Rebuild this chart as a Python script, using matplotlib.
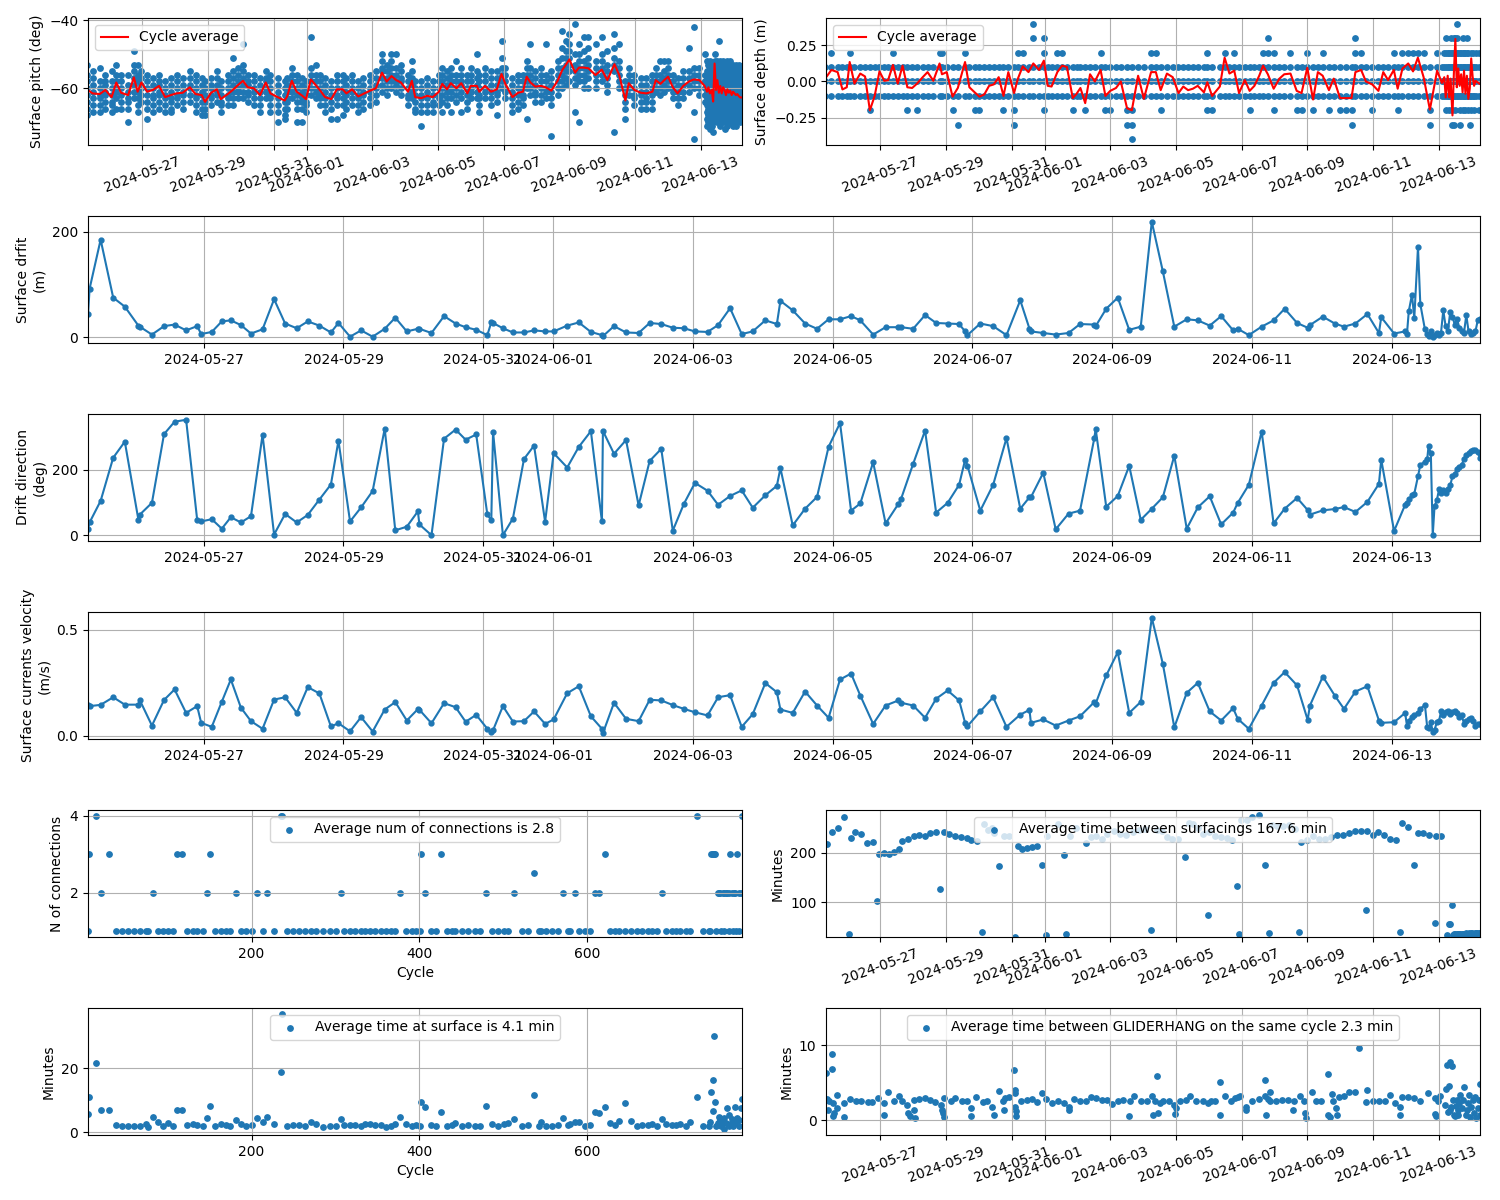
import numpy as np
import pandas as pd
import matplotlib
matplotlib.use('Agg')
import matplotlib.pyplot as plt

# days are counted from this date
start = pd.Timestamp('2024-05-25')

# surfacing times (days since start) for drift / direction / velocity
surf_day = [0.345, 0.367, 0.525, 0.705, 0.871, 1.065, 1.086, 1.259, 1.432, 1.583,
            1.748, 1.906, 1.964, 2.115, 2.259, 2.388, 2.532, 2.676, 2.842, 3.007,
            3.165, 3.331, 3.489, 3.655, 3.820, 3.928, 4.094, 4.252, 4.417, 4.590,
            4.741, 4.906, 5.065, 5.086, 5.259, 5.439, 5.604, 5.748, 5.899, 6.058,
            6.115, 6.140, 6.281, 6.424, 6.583, 6.727, 6.885, 7.007, 7.201, 7.367,
            7.540, 7.698, 7.712, 7.871, 8.043, 8.223, 8.381, 8.547, 8.712, 8.871,
            9.029, 9.209, 9.360, 9.532, 9.698, 9.856, 10.036, 10.201, 10.252, 10.428,
            10.605, 10.776, 10.941, 11.105, 11.263, 11.395, 11.579, 11.757, 11.941, 11.980,
            12.151, 12.322, 12.480, 12.645, 12.809, 12.895, 12.928, 13.112, 13.296, 13.487,
            13.684, 13.816, 13.836, 14.013, 14.191, 14.375, 14.539, 14.743, 14.763, 14.914,
            15.079, 15.243, 15.408, 15.566, 15.724, 15.888, 16.066, 16.224, 16.395, 16.559,
            16.730, 16.796, 16.954, 17.138, 17.309, 17.467, 17.645, 17.796, 17.829, 18.013,
            18.184, 18.316, 18.480, 18.651, 18.816, 18.849, 19.033, 19.191, 19.217, 19.243,
            19.289, 19.322, 19.375, 19.408, 19.474, 19.507, 19.526, 19.559, 19.586, 19.612,
            19.645, 19.678, 19.704, 19.737, 19.770, 19.803, 19.836, 19.868, 19.901, 19.934,
            19.967, 20.000, 20.033, 20.066, 20.099, 20.132, 20.164, 20.197, 20.230, 20.263]

drift = [44, 92, 185, 75, 58, 22, 20, 5, 21, 24,
         13, 21, 6, 10, 30, 32, 23, 7, 15, 72,
         26, 17, 30, 22, 9, 27, 1, 13, 1, 16,
         37, 11, 16, 16, 8, 40, 26, 19, 14, 4,
         28, 27, 17, 9, 9, 13, 11, 11, 22, 28,
         10, 4, 2, 21, 9, 8, 27, 25, 18, 17,
         11, 10, 23, 55, 6, 11, 32, 25, 69, 51,
         26, 16, 34, 34, 40, 32, 5, 19, 19, 19,
         16, 42, 27, 26, 25, 11, 4, 26, 21, 4,
         70, 16, 11, 8, 5, 8, 25, 24, 21, 54,
         75, 14, 20, 219, 125, 20, 34, 32, 22, 40,
         13, 16, 4, 20, 32, 54, 27, 18, 23, 39,
         26, 20, 26, 44, 8, 38, 7, 11, 6, 49,
         81, 36, 171, 63, 15, 6, 3, 12, 0, 5,
         8, 5, 8, 51, 21, 11, 48, 39, 24, 34,
         18, 11, 8, 42, 11, 7, 8, 11, 32, 34]

direction = [20, 39, 105, 237, 286, 48, 63, 99, 309, 347,
             353, 48, 42, 49, 20, 55, 39, 58, 307, 2,
             65, 39, 62, 109, 155, 289, 42, 85, 135, 326,
             15, 26, 73, 33, 0, 295, 323, 292, 308, 64,
             45, 317, 0, 51, 233, 274, 41, 251, 207, 270,
             318, 42, 319, 249, 291, 91, 227, 264, 14, 96,
             160, 136, 93, 120, 137, 84, 122, 151, 205, 30,
             81, 117, 270, 343, 75, 97, 223, 36, 96, 112,
             218, 320, 69, 99, 154, 231, 213, 75, 154, 297,
             81, 116, 116, 191, 18, 66, 75, 296, 325, 87,
             120, 212, 47, 81, 116, 243, 20, 85, 119, 33,
             69, 99, 154, 317, 36, 81, 114, 77, 63, 76,
             80, 86, 71, 102, 157, 231, 13, 93, 98, 110,
             122, 127, 180, 215, 225, 233, 272, 250, 0, 89,
             107, 142, 130, 137, 130, 142, 152, 180, 188, 203,
             208, 215, 233, 246, 252, 257, 261, 261, 254, 235]

velocity = [0.145, 0.139, 0.145, 0.181, 0.146, 0.146, 0.167, 0.047, 0.168, 0.218,
            0.107, 0.139, 0.060, 0.041, 0.160, 0.265, 0.132, 0.068, 0.032, 0.170,
            0.181, 0.107, 0.229, 0.199, 0.043, 0.058, 0.020, 0.087, 0.019, 0.123,
            0.158, 0.071, 0.125, 0.122, 0.058, 0.153, 0.134, 0.065, 0.098, 0.032,
            0.016, 0.025, 0.139, 0.066, 0.068, 0.114, 0.055, 0.076, 0.200, 0.233,
            0.091, 0.032, 0.011, 0.155, 0.079, 0.068, 0.169, 0.166, 0.144, 0.126,
            0.110, 0.095, 0.181, 0.191, 0.041, 0.101, 0.248, 0.205, 0.123, 0.107,
            0.208, 0.142, 0.084, 0.265, 0.293, 0.189, 0.055, 0.142, 0.166, 0.155,
            0.142, 0.084, 0.174, 0.213, 0.166, 0.060, 0.044, 0.114, 0.181, 0.041,
            0.099, 0.121, 0.060, 0.076, 0.047, 0.071, 0.091, 0.158, 0.151, 0.284,
            0.394, 0.107, 0.159, 0.557, 0.339, 0.039, 0.202, 0.249, 0.114, 0.071,
            0.129, 0.079, 0.032, 0.142, 0.249, 0.300, 0.237, 0.074, 0.142, 0.279,
            0.189, 0.126, 0.208, 0.233, 0.071, 0.060, 0.063, 0.107, 0.047, 0.071,
            0.087, 0.095, 0.107, 0.126, 0.145, 0.039, 0.035, 0.063, 0.016, 0.027,
            0.063, 0.071, 0.114, 0.095, 0.110, 0.117, 0.102, 0.110, 0.114, 0.107,
            0.087, 0.098, 0.055, 0.071, 0.079, 0.082, 0.071, 0.047, 0.055, 0.055]

# surface pitch: cycle average and individual readings per surfacing
pitch_day = [0.309, 0.483, 0.699, 0.873, 1.061, 1.205, 1.350, 1.566, 1.740, 1.855,
             1.971, 2.145, 2.318, 2.506, 2.694, 2.867, 3.040, 3.228, 3.445, 3.618,
             3.806, 3.908, 4.095, 4.269, 4.384, 4.601, 4.775, 4.919, 5.064, 5.208,
             5.396, 5.584, 5.757, 5.902, 6.118, 6.335, 6.408, 6.552, 6.697, 6.870,
             6.986, 7.130, 7.275, 7.419, 7.564, 7.751, 7.925, 8.098, 8.214, 8.387,
             8.575, 8.720, 8.936, 9.110, 9.298, 9.442, 9.587, 9.731, 9.876, 10.092,
             10.208, 10.309, 10.497, 10.671, 10.844, 11.032, 11.133, 11.277, 11.393, 11.566,
             11.711, 11.899, 12.000, 12.188, 12.260, 12.434, 12.621, 12.795, 12.939, 13.055,
             13.272, 13.445, 13.590, 13.705, 13.821, 13.965, 14.139, 14.283, 14.457, 14.645,
             14.789, 14.890, 15.006, 15.179, 15.295, 15.439, 15.584, 15.801, 15.990, 16.162,
             16.379, 16.523, 16.711, 16.812, 16.986, 17.173, 17.347, 17.535, 17.636, 17.780,
             17.896, 18.012, 18.156, 18.301, 18.474, 18.647, 18.792, 18.965, 19.124, 19.197,
             19.240, 19.283, 19.341, 19.384, 19.428, 19.471, 19.514, 19.558, 19.601, 19.645,
             19.688, 19.731, 19.775, 19.818, 19.861, 19.905, 19.948, 19.991, 20.035, 20.078,
             20.121, 20.165, 20.208, 20.250]

pitch_avg = [-60.3, -61.5, -61.7, -60.5, -62.6, -58.3, -61.3, -62.0, -56.8, -61.0,
             -58.3, -61.0, -60.5, -59.3, -62.6, -62.0, -61.5, -61.3, -59.7, -61.7,
             -62.0, -64.0, -61.3, -60.3, -63.2, -61.7, -60.3, -59.0, -57.8, -59.7,
             -60.0, -62.0, -58.3, -61.5, -62.6, -63.6, -62.4, -57.8, -61.0, -62.2,
             -63.2, -57.4, -59.0, -60.7, -62.6, -63.2, -60.3, -60.3, -61.5, -60.3,
             -62.4, -61.7, -60.7, -60.0, -55.4, -58.0, -56.4, -57.6, -58.3, -61.0,
             -57.8, -62.6, -62.9, -62.2, -62.6, -61.0, -58.7, -60.3, -58.5, -60.0,
             -58.5, -61.5, -59.3, -59.3, -61.0, -59.3, -61.0, -60.3, -55.8, -58.7,
             -62.6, -61.3, -61.0, -56.6, -58.3, -59.5, -59.3, -59.7, -60.7, -57.8,
             -54.6, -53.2, -51.5, -55.4, -53.9, -53.9, -54.1, -56.1, -54.5, -57.6,
             -52.9, -56.1, -63.6, -58.5, -60.5, -61.3, -61.5, -61.0, -57.6, -58.7,
             -57.6, -56.6, -59.7, -61.5, -59.3, -58.0, -57.4, -57.6, -59.3, -61.0,
             -59.7, -61.5, -60.5, -63.9, -52.7, -60.5, -57.6, -61.3, -59.3, -61.5,
             -59.7, -60.5, -62.0, -60.3, -61.3, -60.7, -62.0, -61.0, -61.5, -62.0,
             -61.7, -62.3, -62.7, -62.7]

pitch_obs = [
    [-53, -56, -58, -60, -62, -64, -66, -68], [-55, -57, -59, -61, -63, -65, -67],
    [-54, -58, -60, -62, -63, -65, -67], [-56, -58, -59, -61, -62, -64, -66],
    [-55, -58, -60, -62, -64, -65, -67], [-53, -56, -58, -60, -61, -63, -66],
    [-56, -58, -60, -62, -64, -66], [-56, -59, -61, -63, -64, -66, -70],
    [-49, -53, -55, -57, -59, -61, -63], [-53, -56, -58, -61, -63, -65, -67],
    [-55, -57, -59, -60, -62, -64], [-56, -58, -60, -62, -64, -66, -69],
    [-57, -59, -60, -62, -63, -65, -67], [-56, -58, -59, -61, -62, -64, -66],
    [-58, -60, -62, -63, -65, -67], [-57, -59, -61, -63, -64, -66, -67],
    [-56, -58, -60, -62, -63, -65], [-57, -59, -61, -62, -64, -66],
    [-55, -57, -59, -60, -62, -64], [-56, -58, -60, -62, -63, -65, -67],
    [-57, -59, -61, -62, -64, -66, -68], [-58, -60, -62, -64, -66, -68],
    [-57, -59, -60, -62, -63, -65], [-55, -57, -59, -61, -62, -64],
    [-58, -60, -62, -64, -65, -67], [-56, -58, -60, -62, -63, -65],
    [-51, -55, -57, -59, -61, -63, -65], [-54, -56, -58, -60, -61, -63],
    [-47, -53, -55, -57, -59, -61, -63], [-56, -58, -59, -61, -62, -64],
    [-56, -58, -60, -61, -63, -65], [-57, -59, -61, -63, -65, -67],
    [-55, -57, -58, -60, -61, -63], [-56, -58, -60, -62, -63, -65, -67],
    [-57, -59, -61, -63, -65, -67, -70], [-58, -60, -62, -64, -66, -68, -69],
    [-57, -59, -61, -63, -64, -66], [-54, -56, -58, -60, -61, -63],
    [-56, -58, -60, -62, -64, -66, -70], [-57, -59, -61, -63, -64, -66, -70],
    [-58, -60, -62, -64, -65, -67], [-45, -54, -56, -58, -60, -62],
    [-53, -56, -58, -60, -61, -63], [-56, -58, -60, -62, -63, -65],
    [-57, -59, -61, -63, -65, -67], [-58, -60, -62, -64, -66, -69],
    [-56, -58, -60, -62, -63, -65, -69], [-56, -58, -60, -61, -63, -65, -68],
    [-57, -59, -61, -62, -64, -66], [-56, -58, -60, -61, -63, -65],
    [-58, -60, -62, -63, -65, -67], [-57, -59, -61, -62, -64, -66],
    [-56, -58, -60, -61, -63, -65], [-55, -57, -59, -60, -62, -64],
    [-50, -52, -54, -55, -57, -59, -61], [-53, -55, -57, -58, -60, -62],
    [-50, -52, -54, -56, -58, -60], [-50, -54, -56, -58, -59, -61],
    [-53, -55, -57, -58, -60, -62], [-56, -58, -60, -62, -63, -65],
    [-52, -55, -57, -59, -61, -63], [-58, -60, -62, -64, -66, -67],
    [-58, -60, -62, -63, -65, -67, -71], [-57, -59, -61, -63, -65, -67],
    [-58, -60, -62, -64, -65, -67], [-56, -58, -60, -62, -63, -65],
    [-54, -56, -58, -60, -62, -64, -67], [-55, -57, -59, -61, -63, -65],
    [-54, -56, -58, -60, -61, -63, -67], [-52, -56, -58, -60, -62, -64],
    [-54, -56, -58, -59, -61, -63, -67], [-56, -58, -60, -62, -64, -66],
    [-54, -56, -58, -60, -61, -63], [-50, -55, -57, -59, -61, -63],
    [-56, -58, -60, -62, -63, -65, -67], [-54, -56, -58, -60, -61, -63],
    [-55, -57, -59, -61, -63, -65], [-55, -57, -59, -61, -62, -64, -68],
    [-46, -51, -54, -56, -58, -60], [-54, -56, -58, -60, -61, -63],
    [-57, -59, -61, -63, -65, -67], [-56, -58, -60, -62, -64, -66],
    [-56, -58, -60, -62, -63, -65], [-52, -54, -56, -58, -60, -69],
    [-47, -54, -56, -58, -60, -62], [-55, -57, -59, -61, -62, -64],
    [-54, -56, -58, -60, -62, -64], [-47, -56, -58, -60, -61, -63],
    [-55, -57, -59, -61, -63, -65, -74], [-52, -54, -56, -58, -60, -62],
    [-43, -48, -51, -54, -56, -58, -60], [-46, -49, -51, -53, -55, -57, -59],
    [-44, -47, -49, -51, -53, -55, -58], [-41, -50, -53, -55, -57, -59, -67],
    [-47, -50, -52, -54, -56, -58, -70], [-45, -49, -52, -54, -56, -58, -60],
    [-45, -48, -51, -53, -55, -57, -60], [-47, -52, -54, -56, -58, -60],
    [-45, -50, -52, -54, -56, -58], [-49, -53, -55, -57, -59, -61],
    [-44, -48, -51, -53, -55, -73], [-47, -52, -54, -56, -58, -60],
    [-58, -60, -62, -64, -66, -69], [-54, -56, -58, -60, -62],
    [-56, -58, -60, -62, -63, -65], [-57, -59, -61, -62, -64, -66],
    [-57, -59, -61, -63, -64, -66], [-56, -58, -60, -62, -64, -66],
    [-54, -56, -58, -60, -61], [-52, -56, -58, -60, -62],
    [-52, -55, -57, -59, -61], [-52, -54, -56, -58, -60],
    [-56, -58, -60, -61, -63], [-57, -59, -61, -63, -65],
    [-55, -57, -59, -61, -63], [-48, -55, -57, -59, -61],
    [-42, -54, -56, -58, -60, -67, -75], [-54, -56, -58, -60, -62],
    [-50, -56, -58, -60, -62, -64],
    [-52, -55, -57, -59, -61, -63, -65, -67, -69, -71],
    [-53, -55, -58, -60, -62, -64, -66, -68, -70],
    [-52, -54, -56, -58, -60, -62, -64, -66, -68, -72],
    [-53, -55, -57, -59, -61, -63, -65, -67, -69, -71],
    [-54, -56, -58, -60, -62, -64, -66, -68, -70, -73],
    [-50, -52, -54, -56, -58, -60, -62, -64, -66, -68],
    [-53, -55, -57, -59, -61, -63, -65, -67, -69],
    [-52, -54, -56, -58, -60, -62, -64, -66, -68, -70],
    [-46, -53, -55, -57, -59, -61, -63, -65, -67, -69],
    [-52, -54, -56, -58, -60, -62, -64, -66, -68, -71],
    [-53, -55, -57, -59, -61, -63, -65, -67, -69],
    [-52, -54, -56, -58, -60, -62, -64, -66, -68, -70],
    [-53, -55, -57, -59, -61, -63, -65, -67, -69, -72],
    [-54, -56, -58, -60, -62, -64, -66, -68, -70],
    [-52, -55, -57, -59, -61, -63, -65, -67, -69, -71],
    [-53, -55, -57, -59, -61, -63, -65, -67, -69],
    [-52, -54, -56, -58, -60, -62, -64, -66, -68, -70],
    [-54, -56, -58, -60, -62, -64, -66, -68, -70],
    [-53, -55, -57, -59, -61, -63, -65, -67, -69, -71],
    [-54, -56, -58, -60, -62, -64, -66, -68, -70],
    [-53, -55, -57, -59, -61, -63, -65, -67, -69, -71],
    [-54, -56, -58, -60, -62, -64, -66, -68, -70],
    [-53, -55, -57, -59, -61, -63, -65, -67, -69],
    [-54, -56, -58, -60, -62, -64, -66, -68, -70],
    [-55, -57, -59, -61, -63, -65, -67, -69],
]

# surface depth: cycle average, levels seen at every surfacing, and rarer levels
depth_day = [0.316, 0.507, 0.697, 0.843, 0.975, 1.063, 1.209, 1.385, 1.531, 1.678,
             1.824, 1.971, 2.117, 2.234, 2.381, 2.527, 2.673, 2.820, 2.966, 3.113,
             3.288, 3.435, 3.611, 3.801, 3.874, 4.020, 4.196, 4.357, 4.577, 4.709,
             4.870, 5.016, 5.163, 5.309, 5.455, 5.602, 5.748, 5.895, 6.070, 6.187,
             6.334, 6.510, 6.656, 6.832, 6.978, 7.095, 7.212, 7.388, 7.534, 7.681,
             7.857, 7.974, 8.091, 8.237, 8.384, 8.530, 8.706, 8.852, 8.999, 9.174,
             9.321, 9.511, 9.657, 9.848, 10.023, 10.243, 10.389, 10.536, 10.726, 10.902,
             11.078, 11.224, 11.370, 11.517, 11.663, 11.854, 11.956, 12.102, 12.337, 12.483,
             12.630, 12.776, 12.922, 13.098, 13.244, 13.391, 13.537, 13.654, 13.801, 13.977,
             14.152, 14.299, 14.489, 14.679, 14.826, 15.001, 15.177, 15.323, 15.470, 15.660,
             15.807, 15.997, 16.173, 16.348, 16.466, 16.641, 16.787, 16.978, 17.168, 17.315,
             17.461, 17.637, 17.754, 17.900, 18.076, 18.222, 18.369, 18.544, 18.735, 18.955,
             19.101, 19.174, 19.218, 19.277, 19.321, 19.365, 19.423, 19.467, 19.511, 19.555,
             19.599, 19.643, 19.687, 19.731, 19.775, 19.818, 19.862, 19.906, 19.950, 19.994,
             20.038, 20.082, 20.126, 20.240]

depth_avg = [0.02, 0.08, 0.065, -0.055, -0.04, 0.135, -0.015, 0.055, 0.035, -0.2,
             -0.1, 0.07, 0.005, 0.01, 0.115, -0.015, 0.11, -0.04, -0.045, -0.015,
             0.03, 0.065, 0.005, 0.125, 0.05, 0.065, -0.105, -0.045, 0.135, -0.04,
             -0.075, -0.105, -0.09, -0.03, -0.02, 0.03, -0.1, 0.065, -0.08, 0.02,
             0.105, 0.065, 0.125, 0.08, 0.145, -0.03, -0.035, 0.065, 0.11, 0.1,
             -0.115, -0.085, -0.045, -0.15, 0.05, 0.0, 0.08, -0.1, -0.065, -0.045,
             0.0, -0.185, -0.2, 0.04, -0.12, 0.065, 0.065, -0.06, 0.055, 0.03,
             -0.08, -0.035, -0.06, -0.05, -0.03, -0.075, -0.005, -0.1, -0.035, 0.165,
             0.055, 0.075, -0.08, 0.01, -0.065, -0.03, 0.04, 0.11, 0.05, -0.05,
             0.02, 0.05, 0.055, -0.065, -0.08, 0.095, -0.125, 0.065, 0.04, -0.06,
             0.02, -0.115, -0.115, -0.115, 0.065, 0.08, 0.0, -0.02, -0.065, 0.065,
             0.01, 0.08, -0.05, 0.09, 0.125, 0.07, 0.165, 0.03, -0.195, 0.075,
             -0.01, 0.03, -0.11, 0.04, -0.11, 0.02, -0.235, 0.065, 0.295, -0.04,
             0.09, -0.03, 0.05, -0.075, 0.075, -0.085, 0.04, -0.12, -0.05, 0.16,
             0.03, -0.03, 0.005, -0.015]

depth_common = [0.1, 0.0, -0.1]
depth_levels = [0.2, -0.2, 0.3, -0.3, 0.4, -0.4]
depth_level_days = [
    [0.507, 1.063, 2.381, 3.801, 3.874, 4.577, 6.187, 6.334, 6.978, 7.388, 7.534, 8.706,
     10.243, 10.389, 11.956, 12.483, 12.776, 13.654, 13.801, 13.977, 14.489, 15.001,
     15.470, 16.466, 16.641, 17.637, 17.900, 18.076, 18.222, 18.369, 18.544, 18.955,
     19.174, 19.218, 19.277, 19.321, 19.365, 19.423, 19.467, 19.511, 19.555, 19.599,
     19.643, 19.687, 19.731, 19.775, 19.818, 19.862, 19.906, 19.994, 20.038, 20.126, 20.240],
    [1.678, 2.820, 3.113, 4.196, 4.870, 5.016, 5.748, 6.070, 6.978, 7.857, 8.237, 8.852,
     8.999, 9.511, 9.657, 10.536, 11.956, 12.102, 13.244, 13.977, 14.679, 14.826, 15.177,
     15.660, 15.997, 16.173, 16.348, 16.978, 17.754, 18.735, 19.218, 19.321, 19.423,
     19.511, 19.643, 19.731, 19.818, 19.906, 19.994, 20.082, 20.240],
    [6.656, 6.978, 13.801, 16.466, 19.218, 19.365, 19.467, 19.511, 19.555, 19.731, 19.862],
    [4.357, 6.070, 9.511, 9.657, 16.348, 18.735, 19.423, 19.467, 19.643, 19.950],
    [6.656, 19.555],
    [9.657],
]

# per cycle: number of connections and time at surface (min)
cycle = [5, 6, 14, 21, 30, 38, 46, 53, 60, 67,
         74, 76, 82, 88, 94, 100, 106, 111, 117, 123,
         130, 135, 142, 147, 150, 157, 163, 169, 174, 181,
         187, 193, 200, 207, 214, 219, 227, 235, 236, 242,
         250, 257, 264, 271, 277, 285, 293, 301, 307, 310,
         317, 324, 330, 335, 341, 347, 354, 360, 366, 371,
         377, 384, 391, 396, 401, 402, 407, 414, 420, 426,
         433, 439, 443, 451, 458, 466, 473, 480, 487, 494,
         501, 506, 513, 522, 530, 537, 543, 545, 551, 558,
         565, 572, 578, 580, 586, 591, 598, 604, 610, 614,
         621, 627, 633, 638, 645, 653, 660, 666, 673, 678,
         684, 689, 694, 701, 706, 711, 718, 723, 731, 738,
         746, 747, 748, 750, 751, 752, 753, 754, 756, 757,
         759, 760, 762, 763, 764, 766, 767, 769, 770, 771,
         773, 774, 776, 777, 778, 779, 781, 782, 784, 785]

connections = [1, 3, 4, 2, 3, 1, 1, 1, 1, 1,
               1, 1, 2, 1, 1, 1, 1, 3, 3, 1,
               1, 1, 1, 2, 3, 1, 1, 1, 1, 2,
               1, 1, 1, 2, 1, 2, 1, 4, 4, 1,
               1, 1, 1, 1, 1, 1, 1, 1, 2, 1,
               1, 1, 1, 1, 1, 1, 1, 1, 1, 1,
               2, 1, 1, 1, 1, 3, 2, 1, 1, 3,
               1, 1, 1, 1, 1, 1, 1, 2, 1, 1,
               1, 1, 2, 1, 1, 2.5, 1, 1, 1, 1,
               1, 2, 1, 1, 2, 1, 1, 1, 2, 2,
               3, 1, 1, 1, 1, 1, 1, 1, 1, 1,
               1, 2, 1, 1, 1, 1, 1, 1, 4, 1,
               1, 1, 3, 3, 3, 3, 3, 1, 2, 2,
               2, 1, 2, 2, 1, 2, 2, 1, 2, 3,
               2, 1, 2, 2, 1, 3, 1, 2, 2, 4]

time_at_surface = [5.7, 11.0, 21.5, 7.0, 7.0, 2.3, 2.1, 2.1, 2.1, 2.1,
                   2.7, 1.7, 4.8, 3.2, 2.1, 2.9, 2.1, 7.0, 7.0, 2.3,
                   2.7, 2.3, 2.1, 4.5, 8.1, 2.1, 2.7, 2.3, 2.1, 3.8,
                   2.7, 1.9, 2.3, 4.4, 3.1, 4.8, 2.7, 18.7, 37.0, 2.1,
                   2.3, 2.3, 2.1, 3.2, 2.5, 1.7, 2.1, 2.1, 4.2, 2.3,
                   2.3, 2.3, 2.1, 2.7, 2.7, 2.3, 2.3, 1.7, 2.1, 2.5,
                   4.8, 2.7, 2.1, 2.3, 2.1, 9.5, 7.9, 2.3, 2.1, 6.5,
                   2.1, 2.3, 2.9, 2.1, 2.3, 2.1, 2.1, 8.2, 2.7, 2.1,
                   2.7, 2.9, 4.1, 2.1, 2.3, 11.6, 2.1, 3.2, 2.1, 2.1,
                   2.3, 4.5, 2.3, 2.7, 3.2, 3.2, 2.1, 2.3, 6.5, 5.9,
                   7.9, 2.9, 2.3, 3.4, 9.1, 3.5, 2.1, 2.3, 2.3, 2.7,
                   2.1, 4.2, 2.7, 2.3, 2.3, 2.7, 2.1, 3.2, 11.0, 2.1,
                   2.1, 3.2, 12.5, 16.3, 6.6, 30.0, 9.5, 2.1, 2.9, 4.8,
                   3.9, 2.1, 2.9, 4.5, 1.0, 2.9, 7.5, 1.9, 5.5, 2.7,
                   4.1, 2.1, 3.4, 7.9, 2.9, 4.5, 2.1, 3.9, 7.5, 10.5]

# time between surfacings (min)
gap_day = [0.365, 0.51, 0.70, 0.876, 1.05, 1.095, 1.24, 1.416, 1.577, 1.766,
           1.91, 1.97, 2.117, 2.263, 2.41, 2.555, 2.67, 2.847, 3.02, 3.18,
           3.36, 3.50, 3.69, 3.82, 3.94, 4.09, 4.26, 4.45, 4.63, 4.77,
           4.93, 5.09, 5.14, 5.28, 5.40, 5.47, 5.62, 5.77, 5.91, 6.10,
           6.18, 6.32, 6.47, 6.61, 6.76, 6.92, 7.05, 7.08, 7.42, 7.59,
           7.66, 7.77, 7.96, 8.25, 8.42, 8.57, 8.76, 8.91, 9.12, 9.30,
           9.49, 9.68, 9.88, 10.07, 10.23, 10.41, 10.58, 10.73, 10.88, 11.05,
           11.28, 11.39, 11.53, 11.68, 11.82, 11.97, 12.01, 12.19, 12.36, 12.55,
           12.70, 12.85, 12.92, 12.99, 13.17, 13.33, 13.53, 13.72, 13.84, 13.94,
           14.09, 14.26, 14.45, 14.63, 14.74, 14.82, 14.99, 15.18, 15.37, 15.55,
           15.72, 15.91, 16.09, 16.28, 16.45, 16.64, 16.79, 16.83, 17.01, 17.15,
           17.33, 17.52, 17.69, 17.84, 17.88, 18.06, 18.25, 18.36, 18.54, 18.71,
           18.88, 18.93, 19.07, 19.26, 19.31, 19.34, 19.41, 19.44, 19.48, 19.51,
           19.55, 19.58, 19.62, 19.66, 19.70, 19.73, 19.77, 19.81, 19.84, 19.88,
           19.92, 19.95, 19.99, 20.03, 20.07, 20.11, 20.14, 20.18, 20.22, 20.25]

gap_min = [219, 243, 250, 273, 37, 231, 243, 239, 220, 222,
           103, 198, 200, 198, 202, 208, 224, 229, 234, 236,
           235, 241, 242, 127, 243, 239, 235, 233, 231, 227,
           224, 41, 258, 246, 250, 241, 174, 235, 235, 30,
           215, 208, 210, 212, 214, 176, 33, 235, 258, 195,
           35, 235, 251, 220, 233, 234, 229, 239, 244, 239,
           236, 243, 246, 249, 45, 246, 244, 233, 229, 229,
           192, 261, 258, 251, 239, 74, 242, 234, 233, 231,
           226, 133, 35, 267, 267, 273, 276, 176, 39, 256,
           254, 254, 256, 248, 41, 222, 226, 234, 229, 229,
           233, 236, 236, 241, 244, 244, 84, 244, 237, 243,
           237, 229, 227, 41, 260, 253, 176, 241, 241, 237,
           59, 235, 234, 33, 57, 57, 94, 33, 35, 35,
           35, 36, 36, 37, 37, 37, 37, 37, 38, 37,
           38, 37, 38, 38, 37, 38, 38, 38, 38, 38]

# time between GLIDERHANG messages on the same cycle (min)
hang_day = [0.336, 0.365, 0.394, 0.438, 0.511, 0.520, 0.540, 0.550, 0.584, 0.686,
            0.690, 0.876, 0.880, 1.066, 1.241, 1.416, 1.606, 1.752, 1.912, 2.117,
            2.120, 2.234, 2.409, 2.555, 2.672, 2.818, 2.847, 2.891, 3.022, 3.030,
            3.066, 3.168, 3.358, 3.504, 3.650, 3.839, 3.869, 3.912, 3.942, 3.950,
            4.161, 4.277, 4.482, 4.628, 4.745, 4.750, 4.920, 5.109, 5.255, 5.401,
            5.445, 5.620, 5.737, 5.766, 5.796, 5.912, 6.058, 6.088, 6.090, 6.102,
            6.131, 6.140, 6.277, 6.467, 6.613, 6.759, 6.934, 7.051, 7.226, 7.401,
            7.591, 7.737, 7.740, 7.883, 8.073, 8.248, 8.423, 8.569, 8.759, 8.905,
            9.051, 9.241, 9.387, 9.562, 9.591, 9.737, 9.927, 10.117, 10.263, 10.292,
            10.365, 10.438, 10.467, 10.511, 10.613, 10.803, 10.949, 10.978, 10.993, 11.139,
            11.314, 11.431, 11.606, 11.825, 11.971, 12.073, 12.190, 12.336, 12.340, 12.482,
            12.672, 12.803, 12.891, 12.949, 13.139, 13.140, 13.328, 13.533, 13.720, 13.723,
            13.730, 13.796, 13.869, 13.870, 14.058, 14.234, 14.409, 14.555, 14.599, 14.788,
            14.891, 14.934, 14.963, 15.139, 15.255, 15.431, 15.620, 15.630, 15.693, 15.766,
            15.796, 15.869, 15.912, 15.956, 16.131, 16.277, 16.453, 16.569, 16.788, 16.832,
            17.007, 17.182, 17.372, 17.518, 17.664, 17.839, 17.840, 17.883, 18.058, 18.248,
            18.423, 18.686, 18.876, 18.905, 18.934, 18.978, 19.051, 19.197, 19.226, 19.270,
            19.275, 19.314, 19.343, 19.350, 19.372, 19.416, 19.431, 19.460, 19.489, 19.518,
            19.562, 19.577, 19.606, 19.635, 19.664, 19.708, 19.752, 19.781, 19.825, 19.854,
            19.898, 19.927, 19.971, 20.000, 20.044, 20.073, 20.102, 20.146, 20.190, 20.219,
            20.248, 20.250]

hang_min = [6.3, 2.8, 1.4, 2.5, 8.8, 6.8, 2.3, 0.5, 0.9, 3.4,
            1.6, 2.3, 0.4, 2.8, 2.5, 2.5, 2.4, 2.4, 2.9, 2.3,
            0.7, 3.7, 2.5, 3.2, 2.5, 2.0, 1.0, 0.5, 1.4, 2.7,
            0.3, 2.8, 2.9, 2.7, 2.4, 2.0, 1.4, 0.9, 0.4, 2.9,
            2.5, 2.9, 2.5, 2.5, 1.6, 0.6, 3.1, 2.4, 2.5, 1.7,
            0.7, 3.9, 2.5, 1.4, 2.9, 3.1, 6.7, 4.0, 3.6, 1.8,
            1.2, 0.5, 2.5, 2.7, 2.8, 2.4, 3.6, 2.8, 2.3, 2.5,
            2.3, 1.8, 1.4, 2.8, 2.5, 2.6, 3.1, 2.9, 2.7, 2.7,
            2.2, 2.5, 2.7, 0.6, 2.5, 3.2, 2.5, 2.5, 3.2, 0.7,
            2.5, 5.9, 1.0, 2.3, 2.6, 2.5, 2.0, 0.8, 1.6, 2.6,
            2.7, 3.2, 2.5, 2.6, 2.3, 2.5, 2.5, 5.1, 0.7, 3.2,
            2.5, 2.9, 3.1, 3.2, 1.8, 1.4, 2.5, 2.8, 5.4, 3.2,
            0.7, 2.8, 3.8, 2.5, 2.5, 2.7, 2.7, 1.4, 2.5, 3.2,
            2.5, 0.9, 0.3, 3.7, 2.5, 2.5, 6.2, 0.7, 0.4, 3.5,
            2.5, 1.6, 0.7, 3.1, 3.2, 3.7, 3.8, 9.7, 2.4, 4.0,
            2.6, 2.6, 2.5, 3.3, 2.3, 0.7, 1.8, 3.1, 3.1, 2.9,
            2.5, 3.6, 2.9, 0.8, 0.5, 2.6, 3.2, 2.0, 4.1, 7.4,
            1.1, 4.5, 7.8, 1.4, 1.8, 7.2, 2.7, 0.7, 0.5, 1.9,
            2.7, 1.4, 0.7, 2.3, 3.4, 1.6, 2.7, 4.4, 0.7, 1.4,
            2.3, 3.4, 0.4, 1.8, 2.7, 0.9, 3.1, 0.3, 1.6, 2.7,
            0.7, 4.8]


def to_time(days):
    return start + pd.to_timedelta(np.asarray(days, dtype=float), unit='D')


t_surf = to_time(surf_day)
xlims = (t_surf[0], t_surf[-1])

fig = plt.figure(figsize=(15, 12), dpi=100)
gs = fig.add_gridspec(6, 2, left=0.0587, right=0.9867, top=0.985, bottom=0.0542,
                      hspace=0.559, wspace=0.1286)

ax_pitch = fig.add_subplot(gs[0, 0])
ax_depth = fig.add_subplot(gs[0, 1])
ax_drift = fig.add_subplot(gs[1, :])
ax_dir = fig.add_subplot(gs[2, :])
ax_vel = fig.add_subplot(gs[3, :])
ax_conn = fig.add_subplot(gs[4, 0])
ax_gap = fig.add_subplot(gs[4, 1])
ax_tsurf = fig.add_subplot(gs[5, 0])
ax_hang = fig.add_subplot(gs[5, 1])

# pitch
px, py = [], []
for d, vals in zip(pitch_day, pitch_obs):
    px += [d] * len(vals)
    py += vals
ax_pitch.scatter(to_time(px), py, s=15, color='tab:blue')
ax_pitch.plot(to_time(pitch_day), pitch_avg, color='red', label='Cycle average')
ax_pitch.set_ylabel('Surface pitch (deg)')
ax_pitch.legend(loc='upper left')

# depth
dx, dy = [], []
for lev in depth_common:
    dx += depth_day
    dy += [lev] * len(depth_day)
for lev, days in zip(depth_levels, depth_level_days):
    dx += days
    dy += [lev] * len(days)
ax_depth.scatter(to_time(dx), dy, s=15, color='tab:blue')
ax_depth.plot(to_time(depth_day), depth_avg, color='red', label='Cycle average')
ax_depth.set_ylabel('Surface depth (m)')
ax_depth.legend(loc='upper left')

# drift, direction, velocity
ax_drift.plot(t_surf, drift, marker='o', markersize=3.5)
ax_drift.set_ylabel('Surface drfit\n(m)')
ax_dir.plot(t_surf, direction, marker='o', markersize=3.5)
ax_dir.set_ylabel('Drift direction\n(deg)')
ax_vel.plot(t_surf, velocity, marker='o', markersize=3.5)
ax_vel.set_ylabel('Surface currents velocity\n(m/s)')

# connections / time at surface vs cycle
ax_conn.scatter(cycle, connections, s=15, label='Average num of connections is 2.8')
ax_conn.set_ylabel('N of connections')
ax_conn.set_xlabel('Cycle')
ax_conn.legend(loc='upper center')

ax_tsurf.scatter(cycle, time_at_surface, s=15, label='Average time at surface is 4.1 min')
ax_tsurf.set_ylabel('Minutes')
ax_tsurf.set_xlabel('Cycle')
ax_tsurf.legend(loc='upper center')

for ax in (ax_conn, ax_tsurf):
    ax.set_xlim(min(cycle), max(cycle))
    ax.locator_params(axis='x', nbins=4)

# time between surfacings / gliderhang
ax_gap.scatter(to_time(gap_day), gap_min, s=15,
               label='Average time between surfacings 167.6 min')
ax_gap.set_ylim(30, 287)
ax_gap.set_ylabel('Minutes')
ax_gap.legend(loc='upper center')

ax_hang.scatter(to_time(hang_day), hang_min, s=15,
                label='Average time between GLIDERHANG on the same cycle 2.3 min')
ax_hang.set_ylim(-2, 15)
ax_hang.set_ylabel('Minutes')
ax_hang.legend(loc='upper center')

for ax in (ax_pitch, ax_depth, ax_drift, ax_dir, ax_vel, ax_gap, ax_hang):
    ax.set_xlim(xlims)
for ax in (ax_pitch, ax_depth, ax_gap, ax_hang):
    ax.tick_params(axis='x', labelrotation=20)

for ax in fig.axes:
    ax.grid(True)
    ax.locator_params(axis='y', nbins=2)

fig.savefig('out.png', dpi=100)
